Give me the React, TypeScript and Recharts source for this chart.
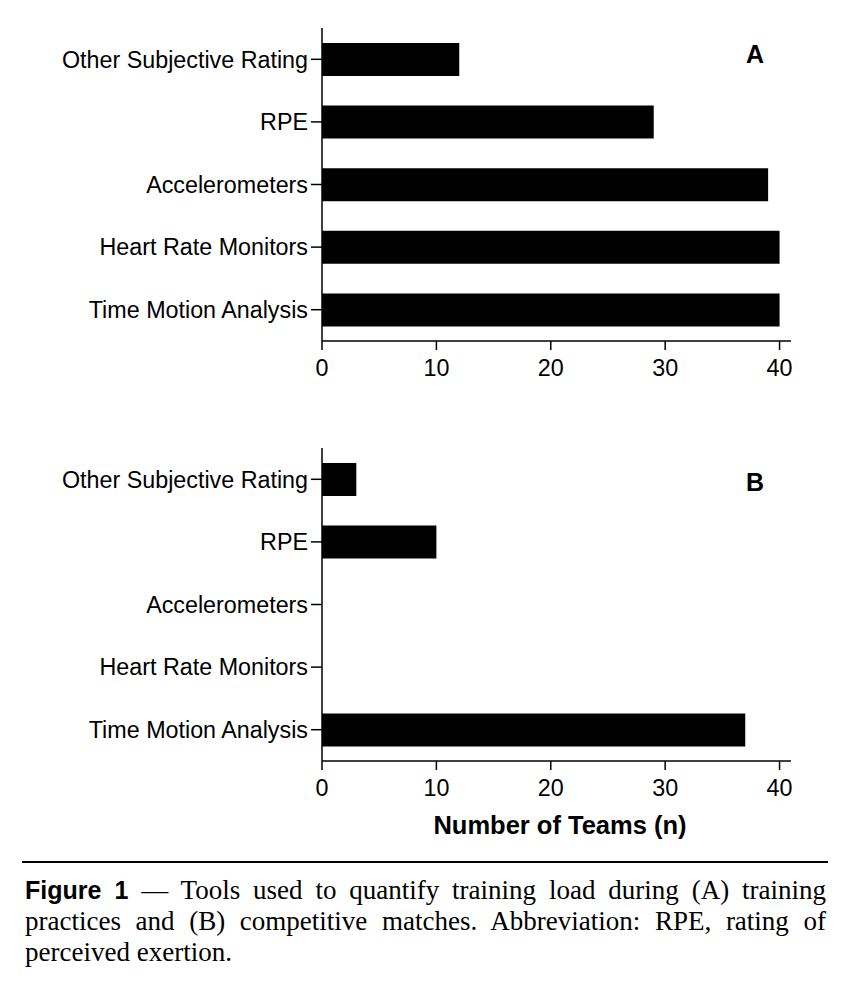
import React from 'react';
import { BarChart, Bar, XAxis, YAxis } from 'recharts';

const tools = [
  'Other Subjective Rating',
  'RPE',
  'Accelerometers',
  'Heart Rate Monitors',
  'Time Motion Analysis',
];
const trainingTeams = [12, 29, 39, 40, 40];
const matchTeams = [3, 10, 0, 0, 37];
const xTicks = [0, 10, 20, 30, 40];

const sans = '"Liberation Sans", Arial, sans-serif';
const serif = '"Liberation Serif", "Times New Roman", serif';

const Panel = ({ values, top, letter }: { values: number[]; top: number; letter: string }) => {
  const data = tools.map((tool, i) => ({ tool, teams: values[i] }));
  return (
    <div style={{ position: 'absolute', left: 0, top, width: 852, height: 400 }}>
      <BarChart
        width={852}
        height={400}
        data={data}
        layout="vertical"
        margin={{ top: 28, right: 61, left: 0, bottom: 20 }}
        barCategoryGap="24%"
      >
        <XAxis
          type="number"
          domain={[0, 41]}
          ticks={xTicks}
          height={39}
          axisLine={{ stroke: '#000', strokeWidth: 1.5 }}
          tickLine={{ stroke: '#000', strokeWidth: 1.5 }}
          tickSize={9}
          tickMargin={9}
          tick={{ fill: '#000', fontSize: 23.3, fontFamily: sans }}
        />
        <YAxis
          type="category"
          dataKey="tool"
          width={322}
          axisLine={{ stroke: '#000', strokeWidth: 1.5 }}
          tickLine={{ stroke: '#000', strokeWidth: 1.5 }}
          tickSize={11}
          tickMargin={3}
          interval={0}
          tick={{ fill: '#000', fontSize: 23.3, fontFamily: sans }}
        />
        <Bar dataKey="teams" fill="#000" isAnimationActive={false} />
      </BarChart>
      <div
        style={{
          position: 'absolute',
          left: 735,
          top: letter === 'A' ? 40 : 48,
          width: 40,
          textAlign: 'center',
          fontFamily: sans,
          fontWeight: 'bold',
          fontSize: 25,
          lineHeight: '28px',
          color: '#000',
        }}
      >
        {letter}
      </div>
    </div>
  );
};

const captionLine: React.CSSProperties = {
  position: 'absolute',
  left: 25,
  width: 801,
  fontFamily: serif,
  fontSize: 27,
  lineHeight: '31px',
  color: '#000',
  whiteSpace: 'nowrap',
};

export default function App() {
  return (
    <div
      style={{
        position: 'absolute',
        left: 0,
        top: 0,
        width: 852,
        height: 982,
        background: '#fff',
      }}
    >
      <Panel values={trainingTeams} top={0} letter="A" />
      <Panel values={matchTeams} top={420} letter="B" />
      <div
        style={{
          position: 'absolute',
          left: 360,
          top: 810,
          width: 400,
          textAlign: 'center',
          fontFamily: sans,
          fontWeight: 'bold',
          fontSize: 25.5,
          lineHeight: '30px',
          color: '#000',
        }}
      >
        Number of Teams (n)
      </div>
      <div
        style={{
          position: 'absolute',
          left: 22,
          top: 861,
          width: 806,
          height: 2,
          background: '#000',
        }}
      />
      <div style={{ ...captionLine, top: 875, textAlign: 'justify', textAlignLast: 'justify', whiteSpace: 'normal' }}>
        <span style={{ fontFamily: sans, fontWeight: 'bold', fontSize: 25 }}>Figure 1</span> — Tools used to
        quantify training load during (A) training
      </div>
      <div style={{ ...captionLine, top: 906, textAlign: 'justify', textAlignLast: 'justify', whiteSpace: 'normal' }}>
        practices and (B) competitive matches. Abbreviation: RPE, rating of
      </div>
      <div style={{ ...captionLine, top: 937 }}>perceived exertion.</div>
    </div>
  );
}
